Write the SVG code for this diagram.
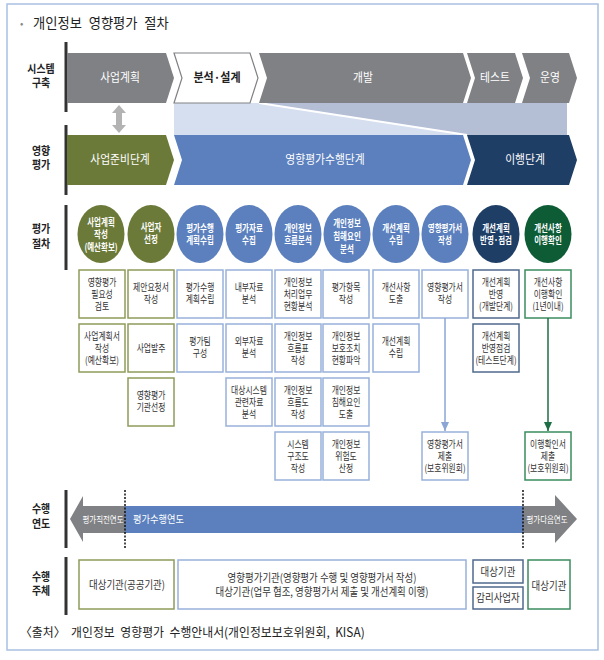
<svg xmlns="http://www.w3.org/2000/svg" width="604" height="660" viewBox="0 0 604 660">
<defs>
<style>
text{font-family:"Noto Sans CJK KR","Noto Sans",sans-serif}
.lbl{font-size:11px;font-weight:bold;fill:#222;text-anchor:middle}
.chv{font-size:12px;fill:#fff;text-anchor:middle}
.chvd{font-size:12px;font-weight:bold;fill:#222;text-anchor:middle}
.et{font-size:10px;font-weight:bold;fill:#fff;text-anchor:middle}
.bt{font-size:10px;fill:#333;text-anchor:middle}
.at{font-size:11px;fill:#333;text-anchor:middle}
.yt{font-size:9px;fill:#fff;text-anchor:middle}
.box{fill:#fff;stroke-width:1.5}
.bo{stroke:#8f9c5b}
.bb{stroke:#98b1da}
.bn{stroke:#4f6a8e}
.bg{stroke:#3a8c5f}
.gray{fill:#808184}
.olive{fill:#6c7a39}
.blue{fill:#5b80bd}
.navy{fill:#1f3e66}
.green{fill:#0e5c36}
.bar{stroke:#333;stroke-width:3}
.dot{stroke:#111;stroke-width:1.5;stroke-dasharray:2 1.5}
</style>
<marker id="ahb" markerWidth="8" markerHeight="9" refX="4" refY="9" markerUnits="userSpaceOnUse" viewBox="0 0 8 9"><path d="M0,0 L8,0 L4,9 Z" fill="#8aa6d4"/></marker>
<marker id="ahg" markerWidth="8" markerHeight="9" refX="4" refY="9" markerUnits="userSpaceOnUse" viewBox="0 0 8 9"><path d="M0,0 L8,0 L4,9 Z" fill="#1e6e45"/></marker>
</defs>
<rect x="7" y="4" width="591" height="646" fill="#fff" stroke="#a9c1e2" stroke-width="1.5"/>
<g id="title">
<text x="20" y="27" font-size="10" fill="#888">•</text>
<text transform="translate(33 28) scale(.95 1)" font-size="14" fill="#222" word-spacing="4">개인정보 영향평가 절차</text>
</g>
<g id="row-labels">
<line class="bar" x1="66" y1="42" x2="66" y2="112"/>
<line class="bar" x1="66" y1="125" x2="66" y2="195"/>
<line class="bar" x1="66" y1="205" x2="66" y2="270"/>
<line class="bar" x1="66" y1="490" x2="66" y2="548"/>
<line class="bar" x1="66" y1="557" x2="66" y2="615"/>
<text class="lbl" transform="translate(41 0) scale(.9 1)"><tspan x="0" y="73">시스템</tspan><tspan x="0" y="87">구축</tspan></text>
<text class="lbl" transform="translate(41 0) scale(.9 1)"><tspan x="0" y="155">영향</tspan><tspan x="0" y="169">평가</tspan></text>
<text class="lbl" transform="translate(41 0) scale(.9 1)"><tspan x="0" y="233">평가</tspan><tspan x="0" y="248">절차</tspan></text>
<text class="lbl" transform="translate(41 0) scale(.9 1)"><tspan x="0" y="513">수행</tspan><tspan x="0" y="528">연도</tspan></text>
<text class="lbl" transform="translate(41 0) scale(.9 1)"><tspan x="0" y="581">수행</tspan><tspan x="0" y="595">주체</tspan></text>
</g>
<g id="band">
<polygon points="174,103 259,103 467,135 174,135" fill="#d6dfef"/>
<polygon points="259,103 567,103 567,135 467,135" fill="#b4bfd6"/>
<line x1="259" y1="103" x2="467" y2="135" stroke="#fff" stroke-width="2"/>
</g>
<g id="sys-plan"><polygon class="gray" points="67,53 166,53 174,78 166,103 67,103"/><text class="chv" transform="translate(120 82) scale(.9 1)">사업계획</text></g>
<g id="sys-design"><polygon points="174,53 250,53 258,78 250,103 174,103 182,78" fill="#fff" stroke="#808184" stroke-width="1.2"/><text class="chvd" transform="translate(217 82) scale(.92 1)">분석·설계</text></g>
<g id="sys-dev"><polygon class="gray" points="259,53 463,53 471,78 463,103 259,103 267,78"/><text class="chv" transform="translate(363 82) scale(.9 1)">개발</text></g>
<g id="sys-test"><polygon class="gray" points="467,53 515,53 523,78 515,103 467,103 475,78"/><text class="chv" transform="translate(495 82) scale(.9 1)">테스트</text></g>
<g id="sys-ops"><polygon class="gray" points="522,53 569,53 577,78 569,103 522,103 530,78"/><text class="chv" transform="translate(550 82) scale(.9 1)">운영</text></g>
<g id="pia-prep"><polygon class="olive" points="67,135 166,135 174,160 166,185 67,185"/><text class="chv" transform="translate(120 164) scale(.9 1)">사업준비단계</text></g>
<g id="pia-exec"><polygon class="blue" points="174,135 463,135 471,160 463,185 174,185 182,160"/><text class="chv" transform="translate(325 164) scale(.9 1)">영향평가수행단계</text></g>
<g id="pia-impl"><polygon class="navy" points="467,135 569,135 577,160 569,185 467,185 475,160"/><text class="chv" transform="translate(525 164) scale(.9 1)">이행단계</text></g>
<g id="step1"><ellipse class="olive" cx="101" cy="234" rx="23.5" ry="29"/><text class="et" transform="translate(101 0) scale(.75 1)"><tspan x="0" y="226">사업계획</tspan><tspan x="0" y="238.5">작성</tspan><tspan x="0" y="251">(예산확보)</tspan></text></g>
<g id="step2"><ellipse class="olive" cx="151" cy="234" rx="23.5" ry="29"/><text class="et" transform="translate(151 0) scale(.75 1)"><tspan x="0" y="231">사업자</tspan><tspan x="0" y="243">선정</tspan></text></g>
<g id="step3"><ellipse class="blue" cx="200" cy="234" rx="23.5" ry="29"/><text class="et" transform="translate(200 0) scale(.75 1)"><tspan x="0" y="232">평가수행</tspan><tspan x="0" y="244">계획수립</tspan></text></g>
<g id="step4"><ellipse class="blue" cx="249" cy="234" rx="23.5" ry="29"/><text class="et" transform="translate(249 0) scale(.75 1)"><tspan x="0" y="232">평가자료</tspan><tspan x="0" y="244">수집</tspan></text></g>
<g id="step5"><ellipse class="blue" cx="298" cy="234" rx="23.5" ry="29"/><text class="et" transform="translate(298 0) scale(.75 1)"><tspan x="0" y="232">개인정보</tspan><tspan x="0" y="244">흐름분석</tspan></text></g>
<g id="step6"><ellipse class="blue" cx="347" cy="234" rx="23.5" ry="29"/><text class="et" transform="translate(347 0) scale(.75 1)"><tspan x="0" y="227">개인정보</tspan><tspan x="0" y="240">침해요인</tspan><tspan x="0" y="253">분석</tspan></text></g>
<g id="step7"><ellipse class="blue" cx="396" cy="234" rx="23.5" ry="29"/><text class="et" transform="translate(396 0) scale(.75 1)"><tspan x="0" y="232">개선계획</tspan><tspan x="0" y="244">수립</tspan></text></g>
<g id="step8"><ellipse class="blue" cx="445" cy="234" rx="23.5" ry="29"/><text class="et" transform="translate(445 0) scale(.75 1)"><tspan x="0" y="232">영향평가서</tspan><tspan x="0" y="244">작성</tspan></text></g>
<g id="step9"><ellipse class="navy" cx="496" cy="234" rx="23.5" ry="29"/><text class="et" transform="translate(496 0) scale(.75 1)"><tspan x="0" y="232">개선계획</tspan><tspan x="0" y="244">반영·점검</tspan></text></g>
<g id="step10"><ellipse class="green" cx="548" cy="234" rx="23.5" ry="29"/><text class="et" transform="translate(548 0) scale(.75 1)"><tspan x="0" y="232">개선사항</tspan><tspan x="0" y="244">이행확인</tspan></text></g>
<g id="c1r1"><rect class="box bo" x="79" y="270" width="46" height="48"/><text class="bt" transform="translate(102 294) scale(.78 1)"><tspan x="0" y="-8">영향평가</tspan><tspan x="0" y="4">필요성</tspan><tspan x="0" y="16">검토</tspan></text></g>
<g id="c1r2"><rect class="box bo" x="79" y="324" width="46" height="48"/><text class="bt" transform="translate(102 348) scale(.78 1)"><tspan x="0" y="-8">사업계획서</tspan><tspan x="0" y="4">작성</tspan><tspan x="0" y="16">(예산확보)</tspan></text></g>
<g id="c2r1"><rect class="box bo" x="128" y="270" width="46" height="48"/><text class="bt" transform="translate(151 294) scale(.78 1)"><tspan x="0" y="-3">제안요청서</tspan><tspan x="0" y="9">작성</tspan></text></g>
<g id="c2r2"><rect class="box bo" x="128" y="324" width="46" height="48"/><text class="bt" transform="translate(151 348) scale(.78 1)"><tspan x="0" y="4">사업발주</tspan></text></g>
<g id="c2r3"><rect class="box bo" x="128" y="378" width="46" height="48"/><text class="bt" transform="translate(151 402) scale(.78 1)"><tspan x="0" y="-3">영향평가</tspan><tspan x="0" y="9">기관선정</tspan></text></g>
<g id="c3r1"><rect class="box bb" x="177" y="270" width="46" height="48"/><text class="bt" transform="translate(200 294) scale(.78 1)"><tspan x="0" y="-3">평가수행</tspan><tspan x="0" y="9">계획수립</tspan></text></g>
<g id="c3r2"><rect class="box bb" x="177" y="324" width="46" height="48"/><text class="bt" transform="translate(200 348) scale(.78 1)"><tspan x="0" y="-3">평가팀</tspan><tspan x="0" y="9">구성</tspan></text></g>
<g id="c4r1"><rect class="box bb" x="226" y="270" width="46" height="48"/><text class="bt" transform="translate(249 294) scale(.78 1)"><tspan x="0" y="-3">내부자료</tspan><tspan x="0" y="9">분석</tspan></text></g>
<g id="c4r2"><rect class="box bb" x="226" y="324" width="46" height="48"/><text class="bt" transform="translate(249 348) scale(.78 1)"><tspan x="0" y="-3">외부자료</tspan><tspan x="0" y="9">분석</tspan></text></g>
<g id="c4r3"><rect class="box bb" x="226" y="378" width="46" height="48"/><text class="bt" transform="translate(249 402) scale(.78 1)"><tspan x="0" y="-8">대상시스템</tspan><tspan x="0" y="4">관련자료</tspan><tspan x="0" y="16">분석</tspan></text></g>
<g id="c5r1"><rect class="box bb" x="275" y="270" width="46" height="48"/><text class="bt" transform="translate(298 294) scale(.78 1)"><tspan x="0" y="-8">개인정보</tspan><tspan x="0" y="4">처리업무</tspan><tspan x="0" y="16">현황분석</tspan></text></g>
<g id="c5r2"><rect class="box bb" x="275" y="324" width="46" height="48"/><text class="bt" transform="translate(298 348) scale(.78 1)"><tspan x="0" y="-8">개인정보</tspan><tspan x="0" y="4">흐름표</tspan><tspan x="0" y="16">작성</tspan></text></g>
<g id="c5r3"><rect class="box bb" x="275" y="378" width="46" height="48"/><text class="bt" transform="translate(298 402) scale(.78 1)"><tspan x="0" y="-8">개인정보</tspan><tspan x="0" y="4">흐름도</tspan><tspan x="0" y="16">작성</tspan></text></g>
<g id="c5r4"><rect class="box bb" x="275" y="432" width="46" height="48"/><text class="bt" transform="translate(298 456) scale(.78 1)"><tspan x="0" y="-8">시스템</tspan><tspan x="0" y="4">구조도</tspan><tspan x="0" y="16">작성</tspan></text></g>
<g id="c6r1"><rect class="box bb" x="323" y="270" width="46" height="48"/><text class="bt" transform="translate(346 294) scale(.78 1)"><tspan x="0" y="-3">평가항목</tspan><tspan x="0" y="9">작성</tspan></text></g>
<g id="c6r2"><rect class="box bb" x="323" y="324" width="46" height="48"/><text class="bt" transform="translate(346 348) scale(.78 1)"><tspan x="0" y="-8">개인정보</tspan><tspan x="0" y="4">보호조치</tspan><tspan x="0" y="16">현황파악</tspan></text></g>
<g id="c6r3"><rect class="box bb" x="323" y="378" width="46" height="48"/><text class="bt" transform="translate(346 402) scale(.78 1)"><tspan x="0" y="-8">개인정보</tspan><tspan x="0" y="4">침해요인</tspan><tspan x="0" y="16">도출</tspan></text></g>
<g id="c6r4"><rect class="box bb" x="323" y="432" width="46" height="48"/><text class="bt" transform="translate(346 456) scale(.78 1)"><tspan x="0" y="-8">개인정보</tspan><tspan x="0" y="4">위험도</tspan><tspan x="0" y="16">산정</tspan></text></g>
<g id="c7r1"><rect class="box bb" x="373" y="270" width="46" height="48"/><text class="bt" transform="translate(396 294) scale(.78 1)"><tspan x="0" y="-3">개선사항</tspan><tspan x="0" y="9">도출</tspan></text></g>
<g id="c7r2"><rect class="box bb" x="373" y="324" width="46" height="48"/><text class="bt" transform="translate(396 348) scale(.78 1)"><tspan x="0" y="-3">개선계획</tspan><tspan x="0" y="9">수립</tspan></text></g>
<g id="c8r1"><rect class="box bb" x="422" y="270" width="46" height="48"/><text class="bt" transform="translate(445 294) scale(.78 1)"><tspan x="0" y="-3">영향평가서</tspan><tspan x="0" y="9">작성</tspan></text></g>
<g id="c8r4"><rect class="box bb" x="422" y="432" width="46" height="48"/><text class="bt" transform="translate(445 456) scale(.78 1)"><tspan x="0" y="-8">영향평가서</tspan><tspan x="0" y="4">제출</tspan><tspan x="0" y="16">(보호위원회)</tspan></text></g>
<g id="c9r1"><rect class="box bn" x="473" y="270" width="46" height="48"/><text class="bt" transform="translate(496 294) scale(.78 1)"><tspan x="0" y="-8">개선계획</tspan><tspan x="0" y="4">반영</tspan><tspan x="0" y="16">(개발단계)</tspan></text></g>
<g id="c9r2"><rect class="box bn" x="473" y="324" width="46" height="48"/><text class="bt" transform="translate(496 348) scale(.78 1)"><tspan x="0" y="-8">개선계획</tspan><tspan x="0" y="4">반영점검</tspan><tspan x="0" y="16">(테스트단계)</tspan></text></g>
<g id="c10r1"><rect class="box bg" x="525" y="270" width="46" height="48"/><text class="bt" transform="translate(548 294) scale(.78 1)"><tspan x="0" y="-8">개선사항</tspan><tspan x="0" y="4">이행확인</tspan><tspan x="0" y="16">(1년이내)</tspan></text></g>
<g id="c10r4"><rect class="box bg" x="525" y="432" width="46" height="48"/><text class="bt" transform="translate(548 456) scale(.78 1)"><tspan x="0" y="-8">이행확인서</tspan><tspan x="0" y="4">제출</tspan><tspan x="0" y="16">(보호위원회)</tspan></text></g>
<g id="connectors">
<polygon points="119,105 126,113 122,113 122,125 126,125 119,133 112,125 116,125 116,113 112,113" fill="#b3b3b3"/>
<line x1="445" y1="318" x2="445" y2="431" stroke="#8aa6d4" stroke-width="1.5" marker-end="url(#ahb)"/>
<line x1="548" y1="318" x2="548" y2="431" stroke="#1e6e45" stroke-width="1.5" marker-end="url(#ahg)"/>
</g>
<g id="years">
<polygon class="gray" points="70,519 83,496 83,506 125,506 125,533 83,533 83,542"/>
<rect class="blue" x="125" y="506" width="398" height="27"/>
<polygon class="gray" points="523,506 555,506 555,495 577,519 555,543 555,533 523,533"/>
<line class="dot" x1="125" y1="490" x2="125" y2="548"/>
<line class="dot" x1="523" y1="490" x2="523" y2="548"/>
<text class="yt" transform="translate(103 523) scale(.83 1)">평가직전연도</text>
<text transform="translate(133 523) scale(.88 1)" font-size="10.5" fill="#fff">평가수행연도</text>
<text class="yt" transform="translate(547 523) scale(.83 1)">평가다음연도</text>
</g>
<g id="actor1"><rect class="box bo" x="79" y="560" width="95" height="49"/><text class="at" transform="translate(127 589) scale(.86 1)">대상기관(공공기관)</text></g>
<g id="actor2"><rect class="box bb" x="178" y="560" width="288" height="49"/><text class="at" transform="translate(322 0) scale(.86 1)"><tspan x="0" y="582">영향평가기관(영향평가 수행 및 영향평가서 작성)</tspan><tspan x="0" y="596">대상기관(업무 협조, 영향평가서 제출 및 개선계획 이행)</tspan></text></g>
<g id="actor3"><rect class="box bn" x="473" y="560" width="50" height="23"/><text class="at" transform="translate(498 576) scale(.86 1)">대상기관</text></g>
<g id="actor4"><rect class="box bn" x="473" y="587" width="50" height="22"/><text class="at" transform="translate(498 602) scale(.86 1)">감리사업자</text></g>
<g id="actor5"><rect class="box bg" x="528" y="560" width="42" height="49"/><text class="at" transform="translate(549 590) scale(.86 1)">대상기관</text></g>
<g id="source"><text transform="translate(20 637) scale(.95 1)" font-size="12.5" fill="#222" word-spacing="3">〈출처〉 개인정보 영향평가 수행안내서(개인정보보호위원회, KISA)</text></g>
</svg>
